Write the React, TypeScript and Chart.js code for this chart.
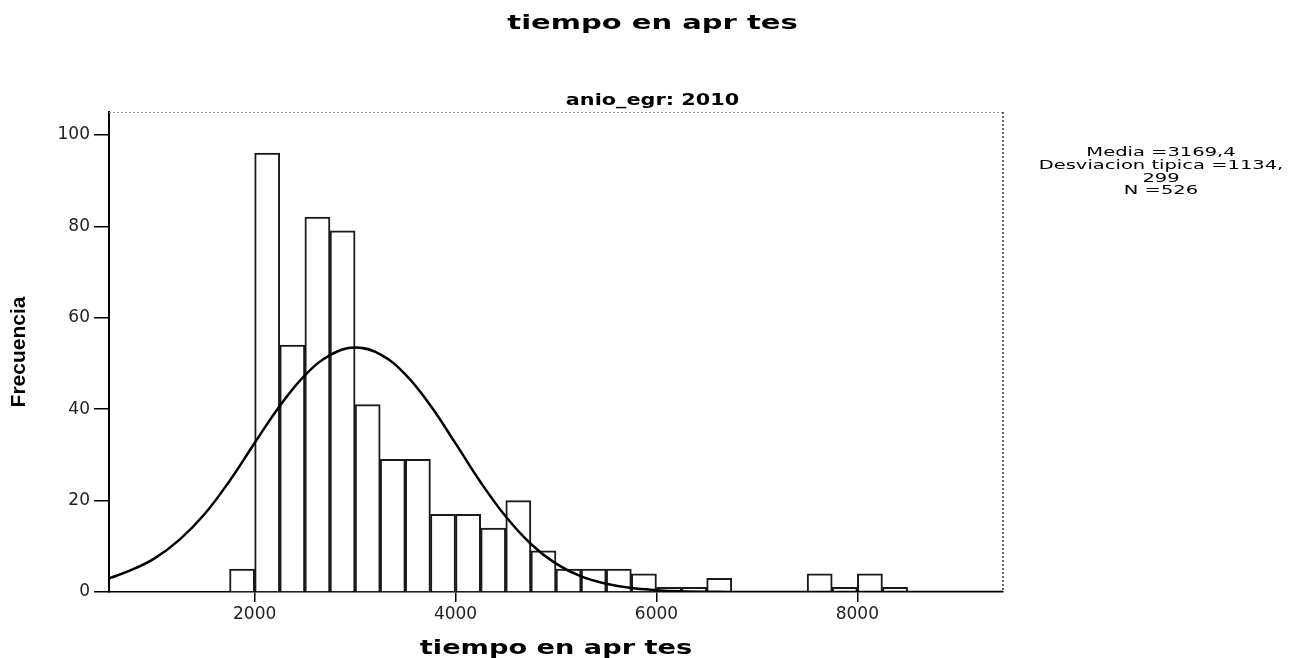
import React, { useEffect, useRef } from 'react';
import { Chart, registerables } from 'chart.js';

Chart.register(...registerables);

// ---- data ----
const binCenters = [1875, 2125, 2375, 2625, 2875, 3125, 3375, 3625, 3875, 4125, 4375, 4625, 4875, 5125, 5375, 5625, 5875, 6125, 6375, 6625, 7625, 7875, 8125, 8375];
const counts = [5, 96, 54, 82, 79, 41, 29, 29, 17, 17, 14, 20, 9, 5, 5, 5, 4, 1, 1, 3, 4, 1, 4, 1];

const curveX = [550, 750, 1000, 1250, 1500, 1750, 2000, 2250, 2500, 2750, 3000, 3250, 3500, 3750, 4000, 4250, 4500, 4750, 5000, 5250, 5500, 5750, 6000, 6250, 6500, 6750, 7000, 7500, 8000, 8500, 9000, 9450];
const curveY = [3.0, 4.6, 7.3, 11.4, 17.0, 24.3, 32.6, 40.7, 47.4, 51.8, 53.5, 52.0, 47.6, 40.8, 32.5, 24.0, 16.5, 10.5, 6.2, 3.4, 1.8, 0.85, 0.4, 0.15, 0.05, 0.02, 0, 0, 0, 0, 0, 0];

const xTickValues = [2000, 4000, 6000, 8000];
const yTickValues = [0, 20, 40, 60, 80, 100];
const xMin = 550;
const xMax = 9450;
const yMin = 0;
const yMax = 105;

const mainTitle = 'tiempo en apr tes';
const panelTitle = 'anio_egr: 2010';
const xAxisTitle = 'tiempo en apr tes';
const yAxisTitle = 'Frecuencia';
const statsLines = ['Media =3169,4', 'Desviacion tipica =1134,', '299', 'N =526'];

function stretchedText(ctx: CanvasRenderingContext2D, text: string, cx: number, baseline: number, font: string, sx: number) {
  ctx.save();
  ctx.font = font;
  ctx.fillStyle = '#000';
  ctx.textAlign = 'center';
  ctx.textBaseline = 'alphabetic';
  ctx.translate(cx, baseline);
  ctx.scale(sx, 1);
  ctx.fillText(text, 0, 0);
  ctx.restore();
}

export default function App() {
  const ref = useRef<HTMLCanvasElement>(null);

  useEffect(() => {
    const canvas = ref.current;
    if (!canvas) return;

    const decorPlugin = {
      id: 'spssDecor',
      afterDraw(chart: any) {
        const ctx: CanvasRenderingContext2D = chart.ctx;
        const a = chart.chartArea;
        // top & right frame lines
        ctx.save();
        ctx.setLineDash([2, 2]);
        ctx.strokeStyle = '#9a9a9a';
        ctx.lineWidth = 1;
        ctx.beginPath();
        ctx.moveTo(a.left, a.top + 0.5);
        ctx.lineTo(a.right, a.top + 0.5);
        ctx.stroke();
        ctx.strokeStyle = '#333';
        ctx.lineWidth = 1.5;
        ctx.beginPath();
        ctx.moveTo(a.right, a.top);
        ctx.lineTo(a.right, a.bottom);
        ctx.stroke();
        ctx.restore();

        const w = chart.width;
        const h = chart.height;
        stretchedText(ctx, mainTitle, w / 2 + 5, 29, 'bold 20px "DejaVu Sans"', 1.45);
        stretchedText(ctx, panelTitle, w / 2 + 5, a.top - 7, 'bold 16px "DejaVu Sans"', 1.3);
        stretchedText(ctx, xAxisTitle, (a.left + a.right) / 2, h - 4, 'bold 20px "DejaVu Sans"', 1.36);
        statsLines.forEach((line, i) => {
          stretchedText(ctx, line, a.right + 158, a.top + 44 + i * 12.8, '13px "DejaVu Sans"', 1.5);
        });
      },
    };

    const chart = new Chart(canvas, {
      type: 'bar',
      data: {
        datasets: [
          {
            type: 'line',
            label: 'Normal',
            data: curveX.map((x, i) => ({ x, y: curveY[i] })),
            borderColor: '#000',
            borderWidth: 2.5,
            pointRadius: 0,
            tension: 0.4,
            fill: false,
            order: 1,
          } as any,
          {
            type: 'bar',
            label: 'Frecuencia',
            data: binCenters.map((x, i) => ({ x, y: counts[i] })),
            backgroundColor: '#ffffff',
            borderColor: '#1a1a1a',
            borderWidth: 2,
            barPercentage: 1,
            categoryPercentage: 1,
            order: 2,
          } as any,
        ],
      },
      options: {
        animation: false,
        responsive: false,
        devicePixelRatio: 1,
        layout: { padding: { left: 0, right: 292, top: 112, bottom: 0 } },
        plugins: {
          legend: { display: false },
          tooltip: { enabled: false },
          title: { display: false },
        },
        scales: {
          x: {
            type: 'linear',
            min: xMin,
            max: xMax,
            offset: false,
            grid: { display: true, drawOnChartArea: false, drawTicks: true, tickLength: 10, color: '#000', lineWidth: 1.5, offset: false },
            border: { display: true, color: '#000', width: 1.5 },
            ticks: {
              font: { family: 'DejaVu Sans', size: 17 },
              color: '#222',
              padding: 2,
              maxRotation: 0,
              autoSkip: false,
              callback: (v: any) => String(v),
            },
            afterBuildTicks: (s: any) => {
              s.ticks = xTickValues.map((v) => ({ value: v }));
            },
            afterFit: (s: any) => {
              s.height = 66;
            },
          },
          y: {
            type: 'linear',
            min: yMin,
            max: yMax,
            grid: { display: true, drawOnChartArea: false, drawTicks: true, tickLength: 15, color: '#000', lineWidth: 1.5 },
            border: { display: true, color: '#000', width: 2 },
            ticks: {
              font: { family: 'DejaVu Sans', size: 17 },
              color: '#222',
              padding: 4,
              callback: (v: any) => String(v),
            },
            afterBuildTicks: (s: any) => {
              s.ticks = yTickValues.map((v) => ({ value: v }));
            },
            title: {
              display: true,
              text: yAxisTitle,
              color: '#000',
              font: { family: 'Liberation Sans', size: 21, weight: 'bold' },
              padding: { top: 7, bottom: 0 },
            },
            afterFit: (s: any) => {
              s.width = 109;
            },
          },
        },
      } as any,
      plugins: [decorPlugin],
    });

    return () => {
      chart.destroy();
    };
  }, []);

  return (
    <div style={{ position: 'fixed', left: 0, top: 0, width: 1295, height: 658, background: '#fff' }}>
      <canvas ref={ref} width={1295} height={658} style={{ display: 'block', width: 1295, height: 658 }} />
    </div>
  );
}
